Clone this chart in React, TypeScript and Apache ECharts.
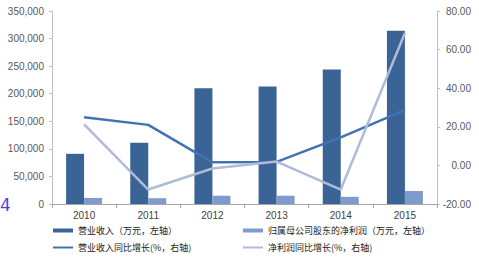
import React, { useEffect, useRef } from "react";
import * as echarts from "echarts";

const years = ["2010", "2011", "2012", "2013", "2014", "2015"];
const revenue = [91000, 111000, 210000, 213000, 244000, 314000];
const netProfit = [11000, 10500, 15000, 15000, 13000, 23500];
const revenueGrowth = [25, 21, 1.6, 1.8, 14.5, 28.6];
const profitGrowth = [21.3, -12.5, -1.6, 2, -12.5, 68.6];

const nameRevenue = "营业收入（万元，左轴）";
const nameProfit = "归属母公司股东的净利润（万元，左轴）";
const nameRevGrowth = "营业收入同比增长(%，右轴)";
const nameProfitGrowth = "净利润同比增长(%，右轴)";

export default function App() {
  const ref = useRef<HTMLDivElement>(null);
  useEffect(() => {
    if (!ref.current) return;
    const chart = echarts.init(ref.current, undefined, { renderer: "svg" });
    const axisLabelFont = { fontFamily: "Liberation Sans, Arial, sans-serif", fontSize: 10, color: "#595959" };
    const legendText = { fontFamily: "Noto Sans CJK SC", fontSize: 9, color: "#222" };
    const mkLegend = (name: string, left: number, top: number, h: number) => ({
      data: [{ name, icon: "rect" }],
      left,
      top,
      itemWidth: 20,
      itemHeight: h,
      itemGap: 2,
      padding: 0,
      textStyle: legendText,
    });
    chart.setOption({
      animation: false,
      backgroundColor: "#fff",
      grid: { left: 52, right: 42, top: 11, bottom: 55 },
      legend: [
        mkLegend(nameRevenue, 53, 226, 4),
        mkLegend(nameProfit, 243, 226, 4),
        mkLegend(nameRevGrowth, 53, 243, 2),
        mkLegend(nameProfitGrowth, 243, 243, 2),
      ],
      xAxis: {
        type: "category",
        data: years,
        axisLine: { lineStyle: { color: "#a6a6a6", width: 1 } },
        axisTick: { show: true, length: 4, lineStyle: { color: "#a6a6a6" } },
        axisLabel: { ...axisLabelFont, color: "#404040", margin: 6 },
      },
      yAxis: [
        {
          type: "value",
          min: 0,
          max: 350000,
          interval: 50000,
          splitLine: { show: false },
          axisLine: { show: true, lineStyle: { color: "#bfbfbf" } },
          axisTick: { show: true, length: 3, lineStyle: { color: "#bfbfbf" } },
          axisLabel: {
            ...axisLabelFont,
            margin: 8,
            formatter: (v: number) => v.toLocaleString("en-US"),
          },
        },
        {
          type: "value",
          min: -20,
          max: 80,
          interval: 20,
          splitLine: { show: false },
          axisLine: { show: true, lineStyle: { color: "#bfbfbf" } },
          axisTick: { show: true, length: 3, lineStyle: { color: "#bfbfbf" } },
          axisLabel: {
            ...axisLabelFont,
            align: "right",
            margin: 34,
            formatter: (v: number) => v.toFixed(2),
          },
        },
      ],
      series: [
        {
          name: nameRevenue,
          type: "bar",
          data: revenue,
          barWidth: 18,
          barGap: "0%",
          itemStyle: { color: "#3b6496" },
        },
        {
          name: nameProfit,
          type: "bar",
          data: netProfit,
          barWidth: 18,
          barGap: "0%",
          itemStyle: { color: "#7f9bcb" },
        },
        {
          name: nameRevGrowth,
          type: "line",
          yAxisIndex: 1,
          data: revenueGrowth,
          symbol: "none",
          lineStyle: { color: "#4372b4", width: 2.5 },
          itemStyle: { color: "#4372b4" },
        },
        {
          name: nameProfitGrowth,
          type: "line",
          yAxisIndex: 1,
          data: profitGrowth,
          symbol: "none",
          lineStyle: { color: "#aebcd8", width: 2.5 },
          itemStyle: { color: "#aebcd8" },
        },
      ],
      graphic: [
        {
          type: "text",
          left: 0,
          top: 196,
          style: { text: "4", fontSize: 17, fontFamily: "DejaVu Sans", fill: "#5a3fd2" },
        },
      ],
    });
    return () => chart.dispose();
  }, []);
  return (
    <div
      ref={ref}
      style={{ position: "fixed", left: 0, top: 0, width: 479, height: 259 }}
    />
  );
}
